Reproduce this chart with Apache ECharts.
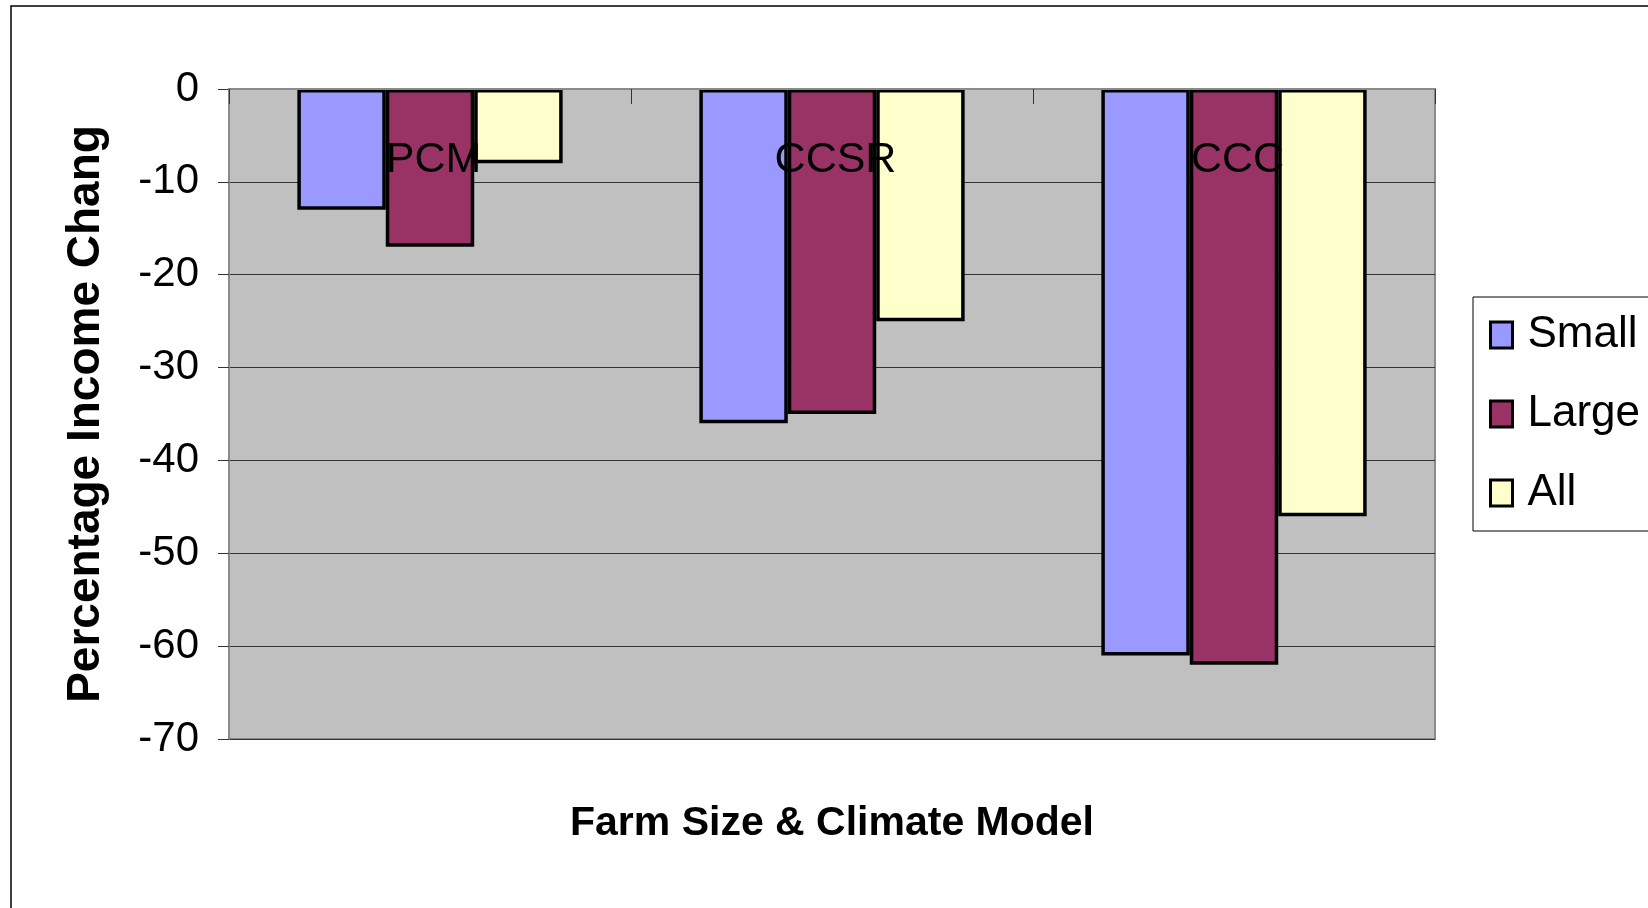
<!DOCTYPE html>
<html>
<head>
<meta charset="utf-8">
<script src="https://cdn.jsdelivr.net/npm/echarts@6/dist/echarts.min.js"></script>
<style>
html,body{margin:0;padding:0;background:#fff;}
#chart{width:1648px;height:908px;}
</style>
</head>
<body>
<div id="chart"></div>
<script>
const categories = ['PCM', 'CCSR', 'CCC'];
const seriesNames = ['Small', 'Large', 'All'];
const smallValues = [-13, -36, -61];
const largeValues = [-17, -35, -62];
const allValues = [-8, -25, -46];

const FONT = '"Liberation Sans", Arial, sans-serif';
const colors = ['#9999FF', '#993366', '#FFFFCC'];
const values = [smallValues, largeValues, allValues];

const chart = echarts.init(document.getElementById('chart'));
chart.setOption({
  animation: false,
  backgroundColor: '#ffffff',
  textStyle: { fontFamily: FONT },
  graphic: [{
    type: 'rect',
    shape: { x: 11, y: 6, width: 1700, height: 1000 },
    style: { fill: 'none', stroke: '#000', lineWidth: 1.5 },
    silent: true, z: -1
  }],
  grid: {
    left: 229, right: 213, top: 89, bottom: 169,
    show: true, backgroundColor: '#C0C0C0', borderColor: '#8a8a8a', borderWidth: 2
  },
  legend: {
    data: seriesNames,
    orient: 'vertical',
    left: 1473, top: 297,
    backgroundColor: '#ffffff',
    borderColor: '#000', borderWidth: 1,
    padding: [16, 60, 16, 16],
    icon: 'rect',
    itemWidth: 22, itemHeight: 26, itemGap: 35,
    textStyle: { fontSize: 44, color: '#000', fontFamily: FONT, padding: [0, 0, 0, 10] },
    itemStyle: { borderColor: '#000', borderWidth: 3 }
  },
  xAxis: [{
    type: 'category',
    data: categories,
    position: 'top',
    z: 10,
    axisLine: { show: true, lineStyle: { color: '#8a8a8a', width: 2 } },
    axisTick: { show: true, inside: true, length: 15, lineStyle: { color: '#333', width: 1 } },
    axisLabel: { inside: true, margin: 50, fontSize: 43, color: '#000', fontFamily: FONT, padding: [0, 0, 0, 7] },
    splitLine: { show: false }
  }, {
    type: 'category',
    data: categories,
    position: 'bottom',
    axisLine: { show: false },
    axisTick: { show: false },
    axisLabel: { show: false },
    splitLine: { show: false },
    name: 'Farm Size & Climate Model',
    nameLocation: 'middle',
    nameGap: 64,
    nameTextStyle: { fontSize: 41, fontWeight: 'bold', color: '#000', fontFamily: FONT }
  }],
  yAxis: {
    type: 'value',
    min: -70, max: 0, interval: 10,
    axisLine: { show: true, lineStyle: { color: '#8a8a8a', width: 2 } },
    axisTick: { show: true, length: 11, lineStyle: { color: '#333', width: 1 } },
    axisLabel: { margin: 30, fontSize: 42, color: '#000', fontFamily: FONT },
    splitLine: { show: true, lineStyle: { color: '#333', width: 1.2 } },
    name: 'Percentage Income Change',
    nameLocation: 'middle',
    nameRotate: 90,
    nameGap: 120,
    nameTruncate: { maxWidth: 600, ellipsis: '' },
    nameTextStyle: { fontSize: 46, fontWeight: 'bold', color: '#000', fontFamily: FONT }
  },
  series: seriesNames.map((n, i) => ({
    name: n,
    type: 'bar',
    xAxisIndex: 0,
    data: values[i],
    barGap: '0%',
    barCategoryGap: '34%',
    itemStyle: { color: colors[i], borderColor: '#000', borderWidth: 3.5 }
  }))
});
</script>
</body>
</html>
